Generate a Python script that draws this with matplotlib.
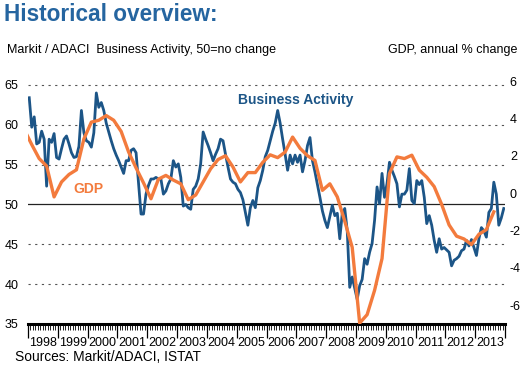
import numpy as np
import matplotlib.pyplot as plt

plt.rcParams['font.family'] = ['Liberation Sans', 'DejaVu Sans']
plt.rcParams['axes.unicode_minus'] = False

# Markit/ADACI business activity index, monthly Jan 1998 - Dec 2013
business = [
    63.4, 59.7, 61.0, 57.6, 57.8, 59.2, 58.2, 52.3, 58.2, 57.8, 58.9, 55.9,  # 1998
    55.7, 57.0, 58.2, 58.6, 57.6, 56.5, 55.9, 56.0, 57.3, 61.8, 59.0, 58.0,  # 1999
    57.8, 57.2, 59.0, 64.0, 62.2, 62.8, 61.8, 60.2, 59.1, 58.0, 57.0, 56.2,  # 2000
    55.5, 54.7, 53.9, 55.5, 55.5, 56.8, 57.0, 56.5, 52.6, 48.8, 48.8, 51.3,  # 2001
    52.4, 53.2, 53.2, 53.4, 53.2, 53.2, 51.3, 51.7, 52.6, 53.2, 55.5, 54.7,  # 2002
    55.1, 53.4, 49.8, 50.0, 49.6, 49.4, 51.9, 52.3, 53.2, 55.1, 59.1, 58.2,  # 2003
    57.4, 56.5, 55.5, 56.3, 57.0, 58.2, 58.0, 56.3, 54.7, 53.2, 52.8, 52.6,  # 2004
    51.9, 51.5, 50.6, 49.0, 47.4, 49.6, 50.5, 49.6, 52.1, 53.0, 54.3, 56.0,  # 2005
    56.8, 58.0, 59.2, 60.2, 61.8, 60.2, 58.2, 56.3, 54.3, 56.2, 55.1, 56.2,  # 2006
    55.3, 56.2, 54.1, 55.5, 57.4, 58.4, 55.5, 54.1, 52.5, 50.9, 49.2, 48.0,  # 2007
    47.1, 48.5, 49.9, 48.6, 48.9, 45.7, 48.9, 49.5, 46.7, 39.6, 40.9, 39.5,  # 2008
    38.1, 39.8, 40.6, 43.2, 42.5, 44.0, 45.1, 48.0, 52.2, 50.1, 53.9, 50.9,  # 2009
    52.6, 55.3, 54.3, 53.5, 52.6, 49.7, 51.3, 51.3, 51.8, 54.5, 50.5, 50.1,  # 2010
    53.0, 52.5, 53.0, 50.9, 47.6, 48.6, 47.4, 45.5, 44.0, 45.7, 44.4, 44.6,  # 2011
    44.3, 44.0, 42.3, 43.0, 43.2, 43.5, 44.2, 44.4, 45.5, 44.8, 45.6, 44.6,  # 2012
    43.6, 45.7, 47.1, 46.7, 45.9, 49.0, 49.5, 52.8, 51.3, 47.4, 48.3, 49.5,  # 2013
]

# GDP, annual % change, quarterly 1997Q4 - 2013Q3
gdp = [
    3.4,
    2.6, 1.85, 1.45, -0.2,     # 1998
    0.6, 1.0, 1.25, 2.9,       # 1999
    3.8, 3.9, 4.15, 3.9,       # 2000
    3.3, 2.2, 1.35, 0.55,      # 2001
    -0.3, 0.75, 0.95, 0.7,     # 2002
    0.5, -0.35, -0.1, 0.6,     # 2003
    1.3, 1.8, 2.0, 1.4,        # 2004
    0.6, 1.1, 1.1, 1.65,       # 2005
    2.05, 1.9, 2.2, 3.0,       # 2006
    2.4, 2.0, 1.75, 0.15,      # 2007
    0.5, -0.2, -1.5, -2.9,     # 2008
    -6.95, -6.5, -5.2, -3.5,   # 2009
    1.05, 1.94, 1.85, 2.03,    # 2010
    1.23, 0.85, 0.35, -0.6,    # 2011
    -1.7, -2.3, -2.45, -2.75,  # 2012
    -2.2, -1.95, -1.0,         # 2013
]

years = list(range(1998, 2014))
left_ticks = [35, 40, 45, 50, 55, 60, 65]
right_ticks = [-6, -4, -2, 0, 2, 4, 6]

blue = '#1c5587'
orange = '#f37b3d'
title_blue = '#2565a0'

# monthly points at the middle of each month, quarterly at the middle of each quarter
bus_x = 1998 + (np.arange(len(business)) + 0.5) / 12
gdp_x = 1998 + (3 * (np.arange(len(gdp)) - 1) + 1.5) / 12

W, H = 527, 366
fig = plt.figure(figsize=(W / 100, H / 100), dpi=100)
ax = fig.add_axes([28 / W, 1 - 324 / H, 477 / W, 243 / H])
ax.set_xlim(1998, 2014)
ax.set_ylim(35, 65.5)

for v in left_ticks[1:]:
    if v == 50:
        ax.axhline(v, color='#222222', lw=0.9, zorder=1)
    else:
        ax.axhline(v, color='#555555', lw=0.8, ls=(0, (2, 4)), zorder=1)

ax.plot(bus_x, business, color=blue, lw=2.0, zorder=3, solid_joinstyle='round')

ax2 = ax.twinx()
ax2.set_ylim(-7, 6)
ax2.plot(gdp_x, gdp, color=orange, lw=2.4, zorder=3, solid_joinstyle='round')

for a in (ax, ax2):
    for s in ('left', 'right', 'top'):
        a.spines[s].set_visible(False)
ax.spines['bottom'].set_linewidth(2.2)
ax2.spines['bottom'].set_visible(False)

ax.set_yticks(left_ticks)
ax.tick_params(axis='y', length=0, pad=7, labelsize=9)
ax2.set_yticks(right_ticks)
ax2.tick_params(axis='y', length=0, pad=3.5, labelsize=9)

ax.set_xticks(years + [2014])
ax.set_xticks(1998 + np.arange(16 * 12) / 12, minor=True)
ax.set_xticklabels([])
ax.tick_params(axis='x', which='major', length=10, width=0.9, direction='out')
ax.tick_params(axis='x', which='minor', length=4.3, width=0.6, direction='out')
for y in years:
    ax.annotate(str(y), xy=(y + 0.5, 0), xycoords=('data', 'axes fraction'),
                xytext=(0, -13.5), textcoords='offset points',
                ha='center', va='center', fontsize=9)

ax.text(2005.05, 63.1, 'Business Activity', color=blue, fontsize=10,
        fontweight='bold', va='center', ha='left')
ax.text(1999.52, 52.0, 'GDP', color=orange, fontsize=10,
        fontweight='bold', va='center', ha='left')

fig.text(4 / W, 1 - 20.7 / H, 'Historical overview:', fontsize=16.3,
         fontweight='bold', color=title_blue, va='baseline')
fig.text(7 / W, 1 - 53.3 / H, 'Markit / ADACI  Business Activity, 50=no change',
         fontsize=9, va='baseline')
fig.text(517 / W, 1 - 53.3 / H, 'GDP, annual % change', fontsize=9,
         va='baseline', ha='right')
fig.text(15 / W, 1 - 360.7 / H, 'Sources: Markit/ADACI, ISTAT', fontsize=9.9,
         va='baseline')

fig.savefig('out.png', dpi=100)
